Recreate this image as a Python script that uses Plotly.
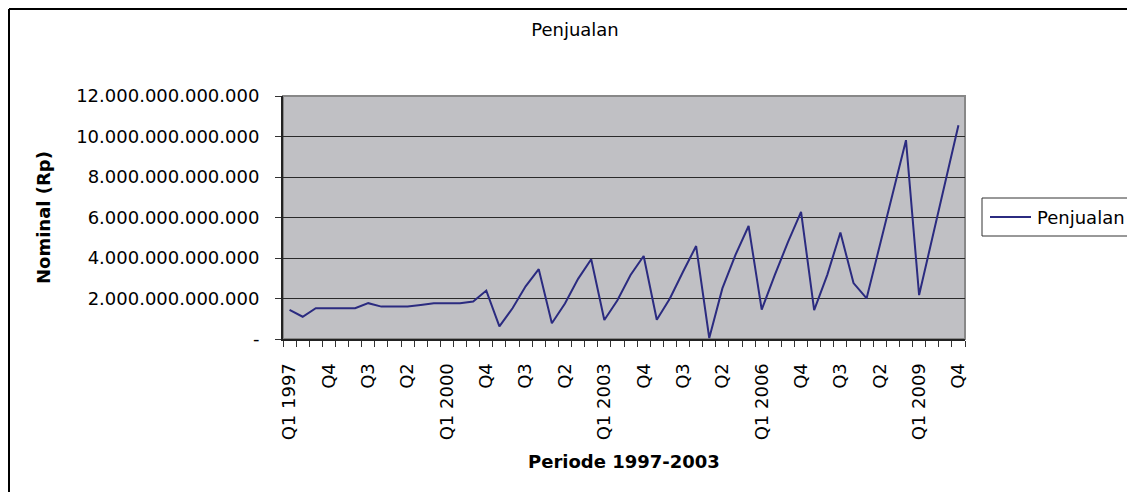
import plotly.graph_objects as go

years = list(range(1997, 2010))
quarters = ["Q1", "Q2", "Q3", "Q4"]
categories = [f"{q} {y}" for y in years for q in quarters]

# Penjualan (Rp)
penjualan = [
    1.44e12, 1.10e12, 1.52e12, 1.52e12, 1.52e12, 1.52e12, 1.77e12, 1.60e12,
    1.60e12, 1.60e12, 1.68e12, 1.77e12, 1.77e12, 1.77e12, 1.85e12, 2.39e12,
    0.62e12, 1.52e12, 2.60e12, 3.45e12, 0.78e12, 1.75e12, 2.97e12, 3.94e12,
    0.94e12, 1.91e12, 3.16e12, 4.10e12, 0.95e12, 2.00e12, 3.32e12, 4.59e12,
    0.05e12, 2.50e12, 4.15e12, 5.58e12, 1.45e12, 3.17e12, 4.78e12, 6.28e12,
    1.43e12, 3.17e12, 5.26e12, 2.76e12, 2.01e12, 4.60e12, 7.20e12, 9.82e12,
    2.17e12, 5.00e12, 7.80e12, 10.56e12,
]

# x tick labels: every third quarter labelled
x_ticktext = []
for i, c in enumerate(categories):
    if i % 3 == 0:
        q, y = c.split()
        x_ticktext.append(c if q == "Q1" else q)
    else:
        x_ticktext.append("")

y_tickvals = [0, 2e12, 4e12, 6e12, 8e12, 10e12, 12e12]
y_ticktext = ["-", "2.000.000.000.000", "4.000.000.000.000", "6.000.000.000.000",
              "8.000.000.000.000", "10.000.000.000.000", "12.000.000.000.000"]

SERIES_NAME = "Penjualan"
LINE_COLOR = "#2B2B80"
FONT = "DejaVu Sans"

# page has an 8px body margin: work in page pixels, convert to figure pixels
OFF = 8
PAGE_W, PAGE_H = 1135, 492
W, H = PAGE_W - OFF, PAGE_H - OFF
L, R, T, B = 283 - OFF, 965 - OFF, 96 - OFF, 339 - OFF
pw, ph = R - L, B - T


def px(x):
    return (x - OFF - L) / pw


def py(y):
    return (B - (y - OFF)) / ph


fig = go.Figure()
fig.add_trace(go.Scatter(
    x=categories, y=penjualan, mode="lines", name=SERIES_NAME,
    line=dict(color=LINE_COLOR, width=2), showlegend=False,
))

fig.update_layout(
    width=W, height=H,
    margin=dict(l=L, r=W - R, t=T, b=H - B, pad=0),
    paper_bgcolor="white",
    plot_bgcolor="rgb(192,192,196)",
    font=dict(family=FONT, size=18, color="black"),
    title=dict(text="Penjualan", x=(575 - OFF) / W, xanchor="center", xref="container",
               y=1 - (30 - OFF) / H, yanchor="middle", yref="container",
               font=dict(family=FONT, size=18, color="black")),
    showlegend=False,
    xaxis=dict(
        type="category", range=[-0.5, len(categories) - 0.5],
        tickmode="array", tickvals=categories, ticktext=x_ticktext,
        tickangle=-90, tickson="boundaries", ticks="outside", ticklen=6,
        tickcolor="#333333", showgrid=False, showline=True, linecolor="#222222",
        linewidth=2, tickfont=dict(family=FONT, size=18, color="black"),
        zeroline=False, ticklabelstandoff=15,
    ),
    yaxis=dict(
        range=[0, 12e12], tickmode="array", tickvals=y_tickvals, ticktext=y_ticktext,
        ticks="outside", ticklen=6, tickcolor="#333333",
        showgrid=True, gridcolor="#2a2a2a", gridwidth=1,
        showline=True, linecolor="#222222", linewidth=2, zeroline=False,
        tickfont=dict(family=FONT, size=18, color="black"),
        ticklabelstandoff=12,
    ),
    annotations=[
        dict(text="<b>Nominal (Rp)</b>", x=px(43), y=py(218), xref="paper", yref="paper",
             textangle=-90, showarrow=False, xanchor="center", yanchor="middle",
             font=dict(family=FONT, size=18, color="black")),
        dict(text="<b>Periode 1997-2003</b>", x=px(624), y=py(461), xref="paper", yref="paper",
             showarrow=False, xanchor="center", yanchor="middle",
             font=dict(family=FONT, size=18, color="black")),
        # legend label
        dict(text=SERIES_NAME, x=px(1035), y=py(217), xref="paper", yref="paper",
             showarrow=False, xanchor="left", yanchor="middle",
             font=dict(family=FONT, size=18, color="black")),
    ],
    shapes=[
        # plot area border (top/right gray)
        dict(type="rect", xref="paper", yref="paper", x0=0, x1=1, y0=0, y1=1,
             line=dict(color="#888888", width=2), layer="below"),
        # outer chart border (left and top)
        dict(type="line", xref="paper", yref="paper", x0=px(OFF + 1), x1=px(OFF + 1),
             y0=py(OFF + 1), y1=py(PAGE_H), line=dict(color="black", width=2)),
        dict(type="line", xref="paper", yref="paper", x0=px(OFF + 1), x1=px(PAGE_W),
             y0=py(OFF + 1), y1=py(OFF + 1), line=dict(color="black", width=2)),
        # legend box and sample line
        dict(type="rect", xref="paper", yref="paper", x0=px(982), x1=px(1133),
             y0=py(236), y1=py(198), line=dict(color="#333333", width=1),
             fillcolor="white"),
        dict(type="line", xref="paper", yref="paper", x0=px(990), x1=px(1031),
             y0=py(217), y1=py(217), line=dict(color=LINE_COLOR, width=2)),
    ],
)

fig.write_html("out.html")
